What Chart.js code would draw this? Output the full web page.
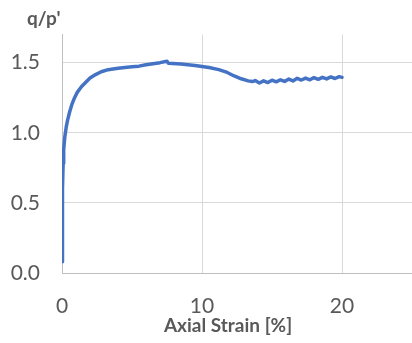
<!DOCTYPE html>
<html>
<head>
<meta charset="utf-8">
<script src="https://cdn.jsdelivr.net/npm/chart.js@4/dist/chart.umd.min.js"></script>
<style>
  html, body { margin: 0; padding: 0; background: #fff; }
  #wrap { position: relative; width: 412px; height: 343px; }
</style>
</head>
<body>
<div id="wrap"><canvas id="stressRatioChart"></canvas></div>
<script>
// axial strain [%] and stress ratio q/p'
var strain = [
    0, 0.02, 0.05, 0.08, 0.12, 0.2, 0.3, 0.4, 0.55, 0.7, 0.9, 1.1, 1.4, 1.7, 2.0, 2.4, 2.8, 3.3,
    4.0, 5.0, 5.5, 6.0, 7.0, 7.5, 7.6, 8.5, 9.5, 10.5, 11.2, 11.8, 12.3, 12.8, 13.3, 13.6,
    13.8, 14.1, 14.4, 14.7, 15.0, 15.3, 15.6, 15.9, 16.2, 16.5, 16.8, 17.1, 17.4, 17.7,
    18.0, 18.3, 18.6, 18.9, 19.2, 19.5, 19.8, 20.0
];
var stressRatio = [
    0.08, 0.35, 0.6, 0.78, 0.88, 0.97, 1.04, 1.09, 1.15, 1.2, 1.25, 1.29, 1.33, 1.36, 1.39, 1.415, 1.435, 1.45,
    1.46, 1.47, 1.475, 1.485, 1.5, 1.51, 1.495, 1.49, 1.48, 1.465, 1.45, 1.43, 1.405, 1.385, 1.37, 1.365,
    1.372, 1.355, 1.37, 1.358, 1.375, 1.363, 1.378, 1.366, 1.383, 1.37, 1.388, 1.376, 1.39, 1.378,
    1.393, 1.381, 1.395, 1.384, 1.398, 1.387, 1.4, 1.395
];
var xTicks = [0, 10, 20];
var yTicks = [0, 0.5, 1, 1.5];
var xTitle = 'Axial Strain [%]';
var yTitle = "q/p'";

var points = strain.map(function (s, i) { return { x: s, y: stressRatio[i] }; });

var fontFamily = "Lato, 'Open Sans', sans-serif";
var tickColor = '#595959';
var gridColor = '#d9d9d9';
var axisColor = '#bfbfbf';

var chart_stressRatio = new Chart(document.getElementById('stressRatioChart'), {
    type: 'line',
    data: {
        datasets: [
            {
                label: yTitle,
                data: points,
                borderColor: '#4472C4',
                borderWidth: 3.5,
                borderJoinStyle: 'round',
                borderCapStyle: 'round',
                pointRadius: 0,
                tension: 0,
                fill: false
            }
        ]
    },
    options: {
        animation: false,
        responsive: true,
        maintainAspectRatio: false,
        layout: {
            padding: { left: 0, right: 0, top: 30, bottom: 0 }
        },
        plugins: {
            legend: { display: false },
            tooltip: { enabled: false }
        },
        scales: {
            x: {
                type: 'linear',
                min: 0,
                max: 25,
                afterBuildTicks: function (scale) {
                    scale.ticks = xTicks.map(function (v) { return { value: v }; });
                },
                afterFit: function (scale) { scale.height = 70; },
                ticks: {
                    color: tickColor,
                    font: { family: fontFamily, size: 21 },
                    padding: 21,
                    maxRotation: 0
                },
                grid: { color: gridColor, lineWidth: 1, drawTicks: false },
                border: { color: axisColor, width: 1 }
            },
            y: {
                type: 'linear',
                min: 0,
                max: 1.7,
                afterBuildTicks: function (scale) {
                    scale.ticks = yTicks.map(function (v) { return { value: v }; });
                },
                afterFit: function (scale) { scale.width = 62; },
                ticks: {
                    color: tickColor,
                    font: { family: fontFamily, size: 21 },
                    padding: 22,
                    callback: function (value) { return value.toFixed(1); }
                },
                grid: { color: gridColor, lineWidth: 1, drawTicks: false },
                border: { color: axisColor, width: 1 }
            }
        }
    },
    plugins: [{
        id: 'whiteBackground',
        beforeDraw: function (chart) {
            var ctx = chart.canvas.getContext('2d');
            ctx.save();
            ctx.globalCompositeOperation = 'destination-over';
            ctx.fillStyle = 'white';
            ctx.fillRect(0, 0, chart.canvas.width, chart.canvas.height);
            ctx.restore();
        }
    }, {
        // axis captions: q/p' above the value axis, strain caption under the ticks
        id: 'axisCaptions',
        afterDraw: function (chart) {
            var ctx = chart.ctx;
            var area = chart.chartArea;
            ctx.save();
            ctx.fillStyle = tickColor;
            ctx.font = 'bold 19px ' + fontFamily;
            ctx.textBaseline = 'middle';
            ctx.textAlign = 'left';
            ctx.fillText(yTitle, area.left - 35, 19);
            ctx.textAlign = 'center';
            ctx.fillText(xTitle, (area.left + area.right) / 2 - 9, area.bottom + 53);
            ctx.restore();
        }
    }]
});
</script>
</body>
</html>
